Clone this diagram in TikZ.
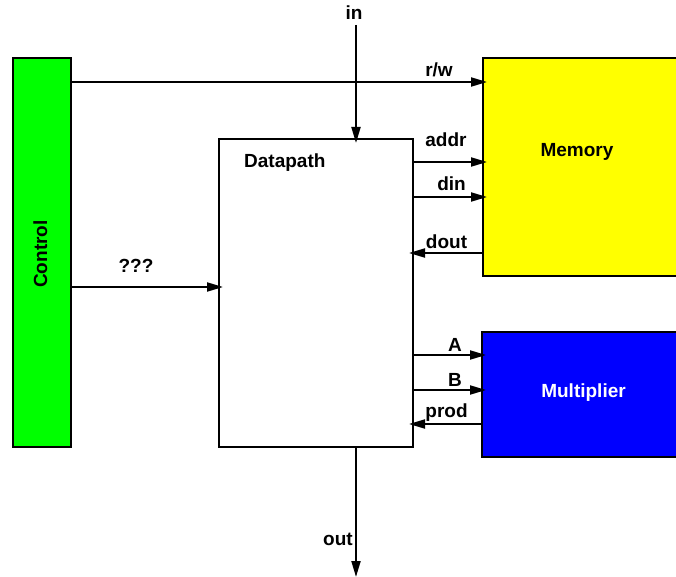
\documentclass[tikz,border=0pt]{standalone}
\usepackage{fontspec}
\setmainfont{Liberation Sans}
\usetikzlibrary{arrows.meta}
\begin{document}
\begin{tikzpicture}[x=1pt,y=-1pt,
  box/.style={draw=black,line width=2pt,anchor=north west,inner sep=0pt,outer sep=0pt},
  lbl/.style={font=\fontsize{19}{22}\selectfont\bfseries,inner sep=0pt,anchor=base},
  arr/.style={line width=2pt,-{Triangle[length=16pt,width=9pt]},shorten >=-4pt}]
\useasboundingbox (0,0) rectangle (676,577);
% boxes
\node[box,fill={rgb,255:red,0;green,255;blue,0},minimum width=58pt,minimum height=389pt] (ctrl) at (13,58) {};
\node[box,fill=white,minimum width=194pt,minimum height=308pt] (dp) at (219,139) {};
\node[box,fill={rgb,255:red,255;green,255;blue,0},minimum width=220pt,minimum height=218pt] (mem) at (483,58) {};
\node[box,fill={rgb,255:red,0;green,0;blue,255},minimum width=220pt,minimum height=125pt] (mul) at (482,332) {};
% box labels
\node[lbl,rotate=90] (ctrllbl) at (47,254) {Control};
\node[lbl,anchor=base west] (dplbl) at (244,168) {Datapath};
\node[lbl] (memlbl) at (577,157) {Memory};
\node[lbl,text=white] (mullbl) at (583.5,397) {Multiplier};
% coordinates
\coordinate (inTop) at (356,25);
\coordinate (outEnd) at (356,573);
\coordinate (rw) at (0,82);
\coordinate (addr) at (0,162);
\coordinate (din) at (0,197);
\coordinate (dout) at (0,253);
\coordinate (qq) at (0,287);
\coordinate (A) at (0,355);
\coordinate (B) at (0,390);
\coordinate (prod) at (0,424);
% connectors
\draw[arr] (inTop) -- (dp.north -| inTop);
\draw[arr] (dp.south -| inTop) -- (outEnd);
\draw[arr] (ctrl.east |- rw) -- (mem.west |- rw);
\draw[arr] (dp.east |- addr) -- (mem.west |- addr);
\draw[arr] (dp.east |- din) -- (mem.west |- din);
\draw[arr] (mem.west |- dout) -- (dp.east |- dout);
\draw[arr] (ctrl.east |- qq) -- (dp.west |- qq);
\draw[arr] (dp.east |- A) -- (mul.west |- A);
\draw[arr] (dp.east |- B) -- (mul.west |- B);
\draw[arr] (mul.west |- prod) -- (dp.east |- prod);
% connector labels
\node[lbl] (inlbl) at (354,20) {in};
\node[lbl] (outlbl) at (338,545) {out};
\node[lbl] (rwlbl) at (439,77) {r/w};
\node[lbl] (addrlbl) at (446,147) {addr};
\node[lbl] (dinlbl) at (451.5,191) {din};
\node[lbl] (doutlbl) at (446.5,248) {dout};
\node[lbl] (qqlbl) at (136,272) {???};
\node[lbl] (Albl) at (455,351) {A};
\node[lbl] (Blbl) at (455,386) {B};
\node[lbl] (prodlbl) at (446.5,417) {prod};
\end{tikzpicture}
\end{document}
